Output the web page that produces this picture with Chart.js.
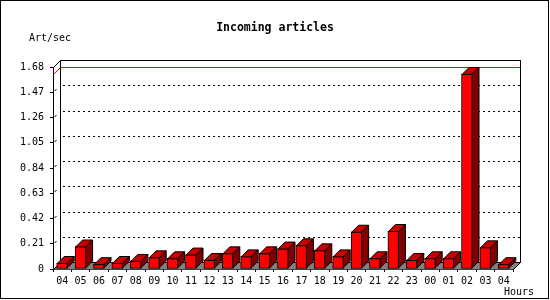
<!DOCTYPE html>
<html><head><meta charset="utf-8">
<script src="https://cdn.jsdelivr.net/npm/chart.js@4/dist/chart.umd.min.js"></script>
<style>html,body{margin:0;padding:0;background:#fff;}canvas{display:block}</style>
</head><body>
<canvas id="c" width="550" height="300"></canvas>
<script>
const chartTitle = "Incoming articles";
const yAxisTitle = "Art/sec";
const xAxisTitle = "Hours";
const hours = ["04","05","06","07","08","09","10","11","12","13","14","15","16","17","18","19","20","21","22","23","00","01","02","03","04"];
const artPerSec = [0.05,0.187,0.04,0.05,0.067,0.097,0.089,0.12,0.075,0.13,0.105,0.13,0.17,0.197,0.155,0.105,0.31,0.089,0.316,0.075,0.089,0.089,1.622,0.18,0.04];
const yTickValues = [0,0.21,0.42,0.63,0.84,1.05,1.26,1.47,1.68];
const yTickLabels = ["0","0.21","0.42","0.63","0.84","1.05","1.26","1.47","1.68"];

const DEPTH = 7;
const FONT = "'DejaVu Sans Mono', monospace";
Chart.defaults.font.family = FONT;
Chart.defaults.font.size = 10;
Chart.defaults.color = '#000';

function seg(ctx, pts) {
  ctx.beginPath();
  ctx.moveTo(pts[0][0], pts[0][1]);
  for (let i = 1; i < pts.length; i++) ctx.lineTo(pts[i][0], pts[i][1]);
  ctx.stroke();
}

const threeD = {
  id: 'threeD',
  beforeDatasetsDraw(chart) {
    const {ctx, chartArea: ca, scales: {y}} = chart;
    const L = ca.left, R = ca.right, T = ca.top, B = ca.bottom, d = DEPTH;
    ctx.save();
    ctx.lineWidth = 1;
    // floor
    ctx.fillStyle = '#808080';
    ctx.beginPath();
    ctx.moveTo(L, B + 0.5); ctx.lineTo(L + d, B - d + 0.5); ctx.lineTo(R + d, B - d + 0.5); ctx.lineTo(R, B + 0.5);
    ctx.closePath(); ctx.fill();
    // back plane
    ctx.strokeStyle = '#000';
    ctx.strokeRect(L + d + 0.5, T - d + 0.5, R - L, B - T);
    seg(ctx, [[L + 0.5, T + 0.5], [L + d + 0.5, T - d + 0.5]]);
    seg(ctx, [[L + 0.5, B + 0.5], [L + d + 0.5, B - d + 0.5]]);
    seg(ctx, [[R + 0.5, B + 0.5], [R + d + 0.5, B - d + 0.5]]);
    // dashed grid on back plane
    ctx.setLineDash([2, 3]);
    const vmax = yTickValues[yTickValues.length - 1];
    yTickValues.forEach(v => {
      if (v <= 0 || v >= vmax) return;
      const py = Math.round(y.getPixelForValue(v)) - d + 0.5;
      seg(ctx, [[L + d + 3, py], [R + d, py]]);
    });
    ctx.setLineDash([]);
    // small diagonal stubs on the front axis
    yTickValues.forEach(v => {
      if (v <= 0 || v >= vmax) return;
      const py = Math.round(y.getPixelForValue(v));
      seg(ctx, [[L + 1.5, py - 1], [L + 3.5, py - 3]]);
    });
    // red max line
    const m = Math.max(...artPerSec);
    const pm = Math.round(y.getPixelForValue(m)) + 0.5;
    ctx.strokeStyle = '#ff0000';
    seg(ctx, [[L + 0.5, pm], [L + d + 0.5, pm - d], [R + d, pm - d]]);
    ctx.restore();
  },
  afterDatasetsDraw(chart) {
    const {ctx} = chart;
    const d = DEPTH;
    const meta = chart.getDatasetMeta(0);
    ctx.save();
    ctx.lineWidth = 1;
    ctx.strokeStyle = '#000';
    meta.data.forEach(bar => {
      const {x, y, base, width} = bar.getProps(['x', 'y', 'base', 'width'], true);
      const xl = x - width / 2 + 0.5, xr = x + width / 2 - 0.5, yt = y + 0.5, yb = base - 0.5;
      ctx.fillStyle = '#c80000';
      ctx.beginPath();
      ctx.moveTo(xl, yt); ctx.lineTo(xl + d, yt - d); ctx.lineTo(xr + d, yt - d); ctx.lineTo(xr, yt);
      ctx.closePath(); ctx.fill(); ctx.stroke();
      ctx.fillStyle = '#800000';
      ctx.beginPath();
      ctx.moveTo(xr, yt); ctx.lineTo(xr + d, yt - d); ctx.lineTo(xr + d, yb - d); ctx.lineTo(xr, yb);
      ctx.closePath(); ctx.fill(); ctx.stroke();
    });
    ctx.restore();
  },
  afterDraw(chart) {
    const {ctx} = chart;
    ctx.save();
    ctx.strokeStyle = '#000';
    ctx.lineWidth = 1;
    ctx.strokeRect(0.5, 0.5, 548, 298);
    ctx.fillStyle = '#000';
    ctx.textBaseline = 'middle';
    ctx.font = "bold 11.5px " + FONT;
    ctx.textAlign = 'center';
    ctx.fillText(chartTitle, 275, 28.5);
    ctx.font = "10px " + FONT;
    ctx.textAlign = 'left';
    ctx.fillText(yAxisTitle, 29, 38);
    ctx.fillText(xAxisTitle, 504, 292);
    ctx.restore();
  }
};

new Chart(document.getElementById('c'), {
  type: 'bar',
  data: {
    labels: hours,
    datasets: [{
      data: artPerSec,
      backgroundColor: '#ff0000',
      borderColor: '#000',
      borderWidth: 1,
      borderSkipped: false,
      barThickness: 11
    }]
  },
  options: {
    responsive: false,
    animation: false,
    devicePixelRatio: 1,
    layout: {padding: {left: 0, top: 67, right: 37, bottom: 0}},
    plugins: {legend: {display: false}, title: {display: false}, tooltip: {enabled: false}},
    scales: {
      x: {
        grid: {display: true, drawOnChartArea: false, drawTicks: true, tickLength: 3, color: '#000', offset: true},
        border: {display: true, color: '#000', width: 1},
        ticks: {padding: 3, color: '#000', maxRotation: 0, autoSkip: false},
        afterFit(s) { s.height = 31; s.paddingLeft = 0; s.paddingRight = 0; }
      },
      y: {
        min: 0, max: 1.68,
        afterBuildTicks(s) { s.ticks = yTickValues.map(v => ({value: v})); },
        ticks: {callback: (v, i) => yTickLabels[i], padding: 6, color: '#000'},
        grid: {display: true, drawOnChartArea: false, drawTicks: true, tickLength: 3, color: '#000'},
        border: {display: true, color: '#000', width: 1},
        afterFit(s) { s.width = 53; s.paddingTop = 0; s.paddingBottom = 0; }
      }
    }
  },
  plugins: [threeD]
});
</script>
</body></html>
